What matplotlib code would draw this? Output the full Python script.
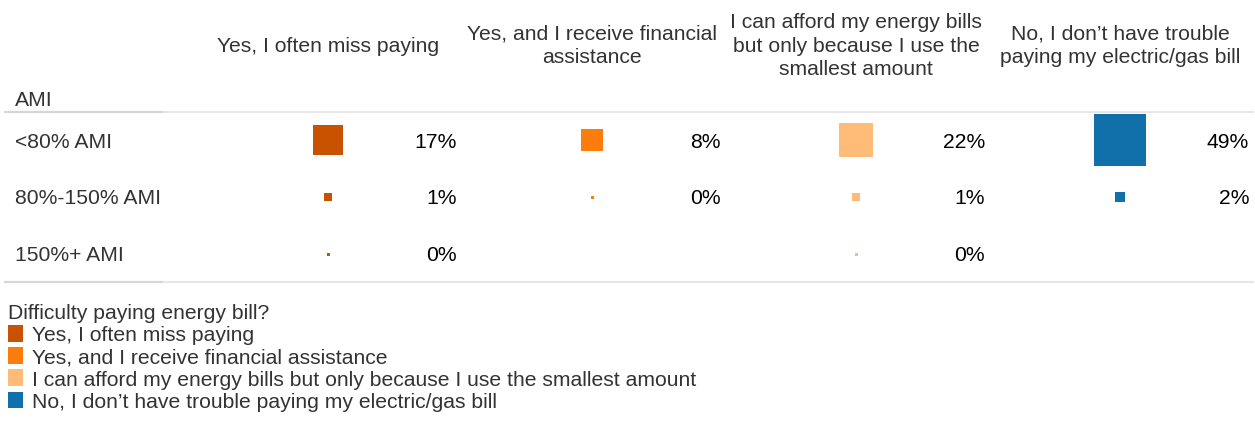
import matplotlib
matplotlib.use("Agg")
import matplotlib.pyplot as plt
import matplotlib.transforms as mtransforms
from matplotlib.lines import Line2D
from matplotlib.patches import Patch
import numpy as np

plt.rcParams['font.family'] = ['Liberation Sans', 'DejaVu Sans']

# ---------------- data ----------------
categories = [
    "Yes, I often miss paying",
    "Yes, and I receive financial\nassistance",
    "I can afford my energy bills\nbut only because I use the\nsmallest amount",
    "No, I don\u2019t have trouble\npaying my electric/gas bill",
]
legend_labels = [
    "Yes, I often miss paying",
    "Yes, and I receive financial assistance",
    "I can afford my energy bills but only because I use the smallest amount",
    "No, I don\u2019t have trouble paying my electric/gas bill",
]
rows = ["<80% AMI", "80%-150% AMI", "150%+ AMI"]
# percent values per category (None = no data)
miss_paying = [17, 1, 0]
financial_assist = [8, 0, None]
smallest_amount = [22, 1, 0]
no_trouble = [49, 2, None]
series = [miss_paying, financial_assist, smallest_amount, no_trouble]
colors = ["#C85200", "#FC7D0B", "#FFBC79", "#1170AA"]

FS = 15.2
W, H = 1255, 427
fig = plt.figure(figsize=(W / 100, H / 100), dpi=100)

# table body axes (pixel layout)
left, right, top, bottom = 196, 1252, 113, 283
ax = fig.add_axes([left / W, (H - bottom) / H, (right - left) / W, (bottom - top) / H])
ax.set_xlim(-0.5, len(categories) - 0.5)
ax.set_ylim(len(rows) - 0.5, -0.5)
ax.axis("off")

px = 72.0 / fig.dpi  # points per pixel
for ci, (vals, col) in enumerate(zip(series, colors)):
    for ri, v in enumerate(vals):
        if v is None:
            continue
        side_px = max(3.0, 7.45 * np.sqrt(v))
        s = (side_px * px) ** 2
        ax.scatter([ci], [ri], s=s, marker="s", color=col, linewidths=0)
        off = mtransforms.offset_copy(ax.transData, fig=fig, x=-3, y=-1, units="dots")
        ax.text(ci + 0.5, ri, f"{v}%", transform=off, ha="right", va="center",
                fontsize=FS, color="#000000")

# column headers
hdr_tr = mtransforms.blended_transform_factory(ax.transData, fig.transFigure)
for ci, cat in enumerate(categories):
    ax.text(ci, (H - 46) / H, cat, transform=hdr_tr, ha="center", va="center",
            fontsize=FS, color="#333333", linespacing=1.33)

# row labels
row_tr = mtransforms.blended_transform_factory(fig.transFigure, ax.transData)
for ri, r in enumerate(rows):
    ax.text(15 / W, ri, r, transform=mtransforms.offset_copy(row_tr, fig=fig, x=0, y=-1, units="dots"),
            ha="left", va="center", fontsize=FS, color="#333333")
fig.text(15 / W, (H - 100) / H, "AMI", ha="left", va="center", fontsize=FS, color="#333333")

# separator lines
for yy in (top, bottom):
    fig.add_artist(Line2D([5 / W, 1253 / W], [(H - yy) / H] * 2, color="#e6e6e6", lw=1.5))
    fig.add_artist(Line2D([5 / W, 162 / W], [(H - yy) / H] * 2, color="#d6d6d6", lw=1.5))

# legend
handles = [Patch(facecolor=c, edgecolor="none") for c in colors]
leg = fig.legend(handles, legend_labels, title="Difficulty paying energy bill?",
                 loc="upper left", bbox_to_anchor=(4 / W, (H - 300) / H),
                 frameon=False, fontsize=FS, title_fontsize=FS,
                 handlelength=0.68, handleheight=0.85, handletextpad=0.45,
                 labelspacing=0.12, borderaxespad=0, borderpad=0.2,
                 alignment="left")
for t in leg.get_texts():
    t.set_color("#333333")
leg.get_title().set_color("#333333")

fig.savefig("out.png", dpi=100)
